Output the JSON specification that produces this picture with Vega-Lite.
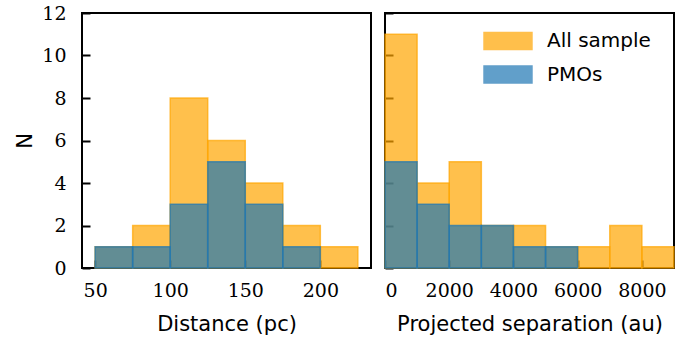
{
  "$schema": "https://vega.github.io/schema/vega-lite/v6.json",
  "padding": {"left": 13, "top": 3, "right": 14, "bottom": 2},
  "background": "white",
  "config": {
    "view": {"stroke": "black", "strokeWidth": 2},
    "concat": {"spacing": 11},
    "axis": {
      "domain": false,
      "grid": false,
      "ticks": true,
      "tickSize": -8,
      "tickWidth": 2,
      "tickColor": "black",
      "labelFont": "DejaVu Serif",
      "labelFontSize": 19,
      "labelColor": "black",
      "titleFont": "DejaVu Sans",
      "titleFontSize": 21,
      "titleFontWeight": "normal",
      "titleColor": "black",
      "zindex": 1
    },
    "legend": {
      "labelFont": "DejaVu Sans",
      "labelFontSize": 20,
      "labelColor": "black",
      "padding": 0
    }
  },
  "resolve": {
    "scale": {"color": "independent", "stroke": "independent"},
    "legend": {"color": "independent", "stroke": "independent"}
  },
  "datasets": {
    "hist": [
      {"var": "dist", "sample": "All sample", "lo": 50, "hi": 75, "n": 1},
      {"var": "dist", "sample": "All sample", "lo": 75, "hi": 100, "n": 2},
      {"var": "dist", "sample": "All sample", "lo": 100, "hi": 125, "n": 8},
      {"var": "dist", "sample": "All sample", "lo": 125, "hi": 150, "n": 6},
      {"var": "dist", "sample": "All sample", "lo": 150, "hi": 175, "n": 4},
      {"var": "dist", "sample": "All sample", "lo": 175, "hi": 200, "n": 2},
      {"var": "dist", "sample": "All sample", "lo": 200, "hi": 225, "n": 1},
      {"var": "dist", "sample": "PMOs", "lo": 50, "hi": 75, "n": 1},
      {"var": "dist", "sample": "PMOs", "lo": 75, "hi": 100, "n": 1},
      {"var": "dist", "sample": "PMOs", "lo": 100, "hi": 125, "n": 3},
      {"var": "dist", "sample": "PMOs", "lo": 125, "hi": 150, "n": 5},
      {"var": "dist", "sample": "PMOs", "lo": 150, "hi": 175, "n": 3},
      {"var": "dist", "sample": "PMOs", "lo": 175, "hi": 200, "n": 1},
      {"var": "sep", "sample": "All sample", "lo": 0, "hi": 1000, "n": 11},
      {"var": "sep", "sample": "All sample", "lo": 1000, "hi": 2000, "n": 4},
      {"var": "sep", "sample": "All sample", "lo": 2000, "hi": 3000, "n": 5},
      {"var": "sep", "sample": "All sample", "lo": 3000, "hi": 4000, "n": 2},
      {"var": "sep", "sample": "All sample", "lo": 4000, "hi": 5000, "n": 2},
      {"var": "sep", "sample": "All sample", "lo": 5000, "hi": 6000, "n": 1},
      {"var": "sep", "sample": "All sample", "lo": 6000, "hi": 7000, "n": 1},
      {"var": "sep", "sample": "All sample", "lo": 7000, "hi": 8000, "n": 2},
      {"var": "sep", "sample": "All sample", "lo": 8000, "hi": 9000, "n": 1},
      {"var": "sep", "sample": "PMOs", "lo": 0, "hi": 1000, "n": 5},
      {"var": "sep", "sample": "PMOs", "lo": 1000, "hi": 2000, "n": 3},
      {"var": "sep", "sample": "PMOs", "lo": 2000, "hi": 3000, "n": 2},
      {"var": "sep", "sample": "PMOs", "lo": 3000, "hi": 4000, "n": 2},
      {"var": "sep", "sample": "PMOs", "lo": 4000, "hi": 5000, "n": 1},
      {"var": "sep", "sample": "PMOs", "lo": 5000, "hi": 6000, "n": 1}
    ]
  },
  "hconcat": [
    {
      "width": 289,
      "height": 255,
      "data": {"name": "hist"},
      "transform": [{"filter": "datum.var === 'dist'"}],
      "mark": {"type": "rect", "fillOpacity": 0.7, "strokeOpacity": 0.7, "strokeWidth": 1.5},
      "encoding": {
        "x": {
          "field": "lo", "type": "quantitative",
          "scale": {"domain": [41.25, 233.75], "nice": false, "zero": false},
          "axis": {"values": [50, 100, 150, 200], "title": "Distance (pc)", "labelPadding": 21, "titlePadding": 13}
        },
        "x2": {"field": "hi"},
        "y": {
          "field": "n", "type": "quantitative",
          "scale": {"domain": [0, 12], "nice": false},
          "axis": {"values": [0, 2, 4, 6, 8, 10, 12], "title": "N", "labelPadding": 24, "titlePadding": 6}
        },
        "y2": {"datum": 0},
        "color": {
          "field": "sample", "type": "nominal",
          "scale": {"domain": ["All sample", "PMOs"], "range": ["#FFA500", "#1f77b4"]},
          "legend": null
        },
        "stroke": {
          "field": "sample", "type": "nominal",
          "scale": {"domain": ["All sample", "PMOs"], "range": ["#FFA500", "#1f77b4"]},
          "legend": null
        },
        "order": {"field": "sample"}
      }
    },
    {
      "width": 289,
      "height": 255,
      "data": {"name": "hist"},
      "transform": [{"filter": "datum.var === 'sep'"}],
      "mark": {"type": "rect", "fillOpacity": 0.7, "strokeOpacity": 0.7, "strokeWidth": 1.5},
      "encoding": {
        "x": {
          "field": "lo", "type": "quantitative",
          "scale": {"domain": [0, 9000], "nice": false, "zero": false},
          "axis": {"values": [0, 2000, 4000, 6000, 8000], "format": "d", "title": "Projected separation (au)", "labelPadding": 21, "titlePadding": 13}
        },
        "x2": {"field": "hi"},
        "y": {
          "field": "n", "type": "quantitative",
          "scale": {"domain": [0, 12], "nice": false},
          "axis": {"values": [0, 2, 4, 6, 8, 10, 12], "labels": false, "title": null, "minExtent": 0, "maxExtent": 0}
        },
        "y2": {"datum": 0},
        "color": {
          "field": "sample", "type": "nominal",
          "scale": {"domain": ["All sample", "PMOs"], "range": ["#FFA500", "#1f77b4"]},
          "legend": {
            "title": null,
            "orient": "none",
            "legendX": 113,
            "legendY": 18,
            "symbolType": "M-2.82,-1H2.82V1H-2.82Z",
            "symbolSize": 289,
            "symbolOpacity": 0.7,
            "symbolStrokeWidth": 1.5,
            "labelOffset": 29,
            "rowPadding": 9.5
          }
        },
        "stroke": {
          "field": "sample", "type": "nominal",
          "scale": {"domain": ["All sample", "PMOs"], "range": ["#FFA500", "#1f77b4"]}
        },
        "order": {"field": "sample"}
      }
    }
  ]
}
